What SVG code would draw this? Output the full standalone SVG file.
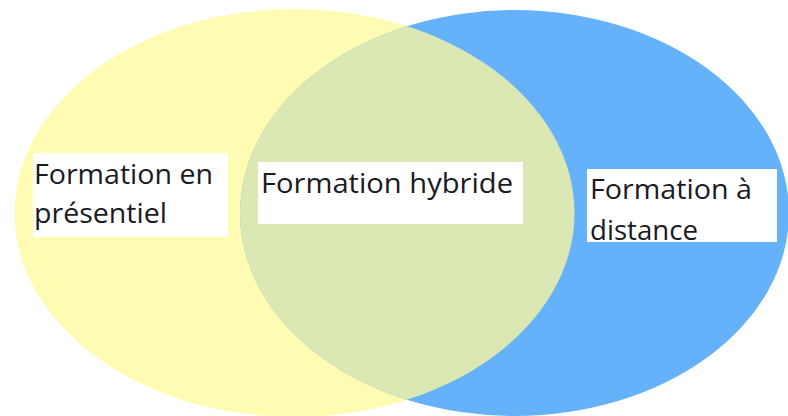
<svg xmlns="http://www.w3.org/2000/svg" width="788" height="416" viewBox="0 0 788 416">
  <defs>
    <style>
      .lbl { font-family: "Open Sans", "Noto Sans", "Liberation Sans", sans-serif; font-size: 27px; fill: #1a1a22; }
      .box { fill: #ffffff; }
    </style>
    <clipPath id="clipBlue">
      <ellipse cx="514.5" cy="213" rx="274.5" ry="203"/>
    </clipPath>
  </defs>
  <rect x="0" y="0" width="788" height="416" fill="#ffffff"/>
  <g id="presentiel">
    <ellipse cx="294.5" cy="213" rx="280" ry="204" fill="#FEFCB2"/>
  </g>
  <g id="distance">
    <ellipse cx="514.5" cy="213" rx="274.5" ry="203" fill="#66B2FA"/>
  </g>
  <g id="hybride">
    <ellipse cx="294.5" cy="213" rx="280" ry="204" fill="#DCE8B4" clip-path="url(#clipBlue)"/>
  </g>
  <g id="label-presentiel">
    <rect class="box" x="33" y="153" width="195" height="84"/>
    <text class="lbl" x="34" y="184" textLength="179" lengthAdjust="spacingAndGlyphs">Formation en</text>
    <text class="lbl" x="34" y="223" textLength="133" lengthAdjust="spacingAndGlyphs">présentiel</text>
  </g>
  <g id="label-hybride">
    <rect class="box" x="258" y="162" width="265" height="62"/>
    <text class="lbl" x="261" y="193" textLength="252" lengthAdjust="spacingAndGlyphs">Formation hybride</text>
  </g>
  <g id="label-distance">
    <rect class="box" x="587" y="169" width="190" height="73"/>
    <text class="lbl" x="590" y="199" textLength="162" lengthAdjust="spacingAndGlyphs">Formation à</text>
    <text class="lbl" x="590" y="240" textLength="108" lengthAdjust="spacingAndGlyphs">distance</text>
  </g>
</svg>
